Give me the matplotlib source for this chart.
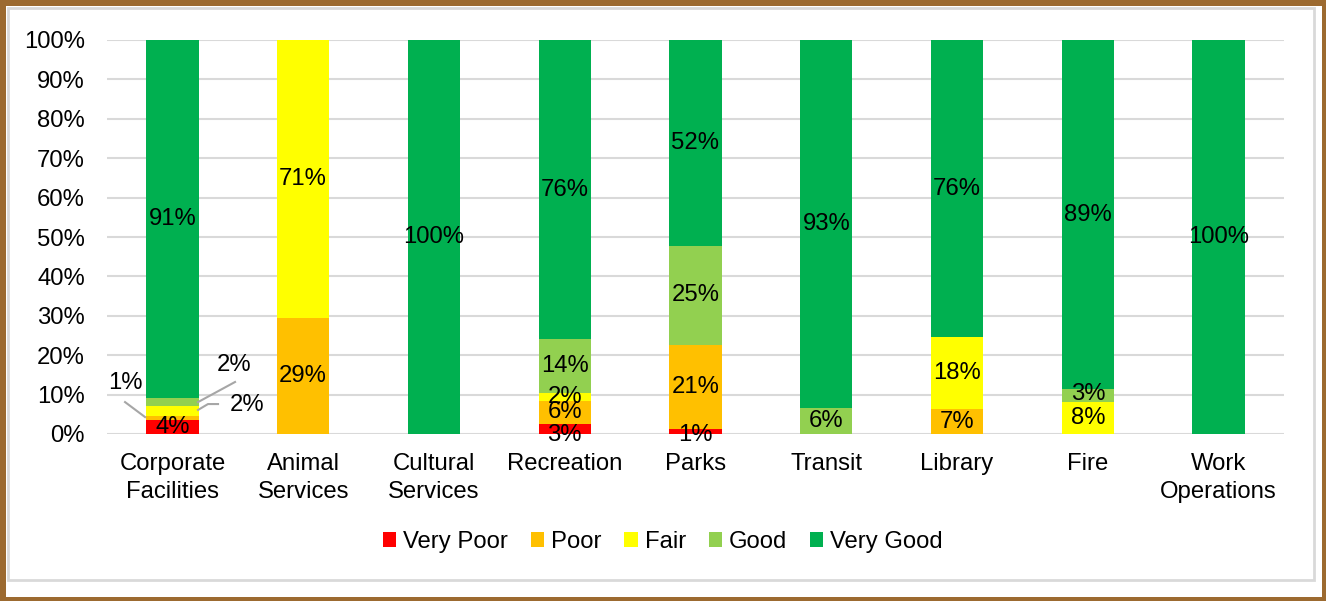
import matplotlib
matplotlib.use("Agg")
import matplotlib.pyplot as plt
from matplotlib.patches import Rectangle
import numpy as np

plt.rcParams['font.family'] = ['Liberation Sans', 'DejaVu Sans']

categories = ["Corporate\nFacilities", "Animal\nServices", "Cultural\nServices", "Recreation",
              "Parks", "Transit", "Library", "Fire", "Work\nOperations"]
series = ["Very Poor", "Poor", "Fair", "Good", "Very Good"]
colors = ["#FF0000", "#FFC000", "#FFFF00", "#92D050", "#00B050"]

# Estimated segment shares (%)
very_poor = [3.6, 0, 0, 2.6, 1.2, 0, 0, 0, 0]
poor      = [1.0, 29.4, 0, 5.8, 21.4, 0, 6.3, 0, 0]
fair      = [2.5, 70.6, 0, 2.0, 0, 0, 18.3, 8.1, 0]
good      = [2.0, 0, 0, 13.6, 25.2, 6.6, 0, 3.3, 0]
very_good = [90.9, 0, 100, 76.0, 52.2, 93.4, 75.4, 88.6, 100]

# Displayed data labels
lbl_very_poor = ["4%", "", "", "3%", "1%", "", "", "", ""]
lbl_poor      = ["1%", "29%", "", "6%", "21%", "", "7%", "", ""]
lbl_fair      = ["2%", "71%", "", "2%", "", "", "18%", "8%", ""]
lbl_good      = ["2%", "", "", "14%", "25%", "6%", "", "3%", ""]
lbl_very_good = ["91%", "", "100%", "76%", "52%", "93%", "76%", "89%", "100%"]

values = [very_poor, poor, fair, good, very_good]
labels = [lbl_very_poor, lbl_poor, lbl_fair, lbl_good, lbl_very_good]

W, H = 1326, 601
fig = plt.figure(figsize=(W / 100, H / 100), dpi=100)

# frame
fig.patches.append(Rectangle((0, 0), 1, 1, transform=fig.transFigure, facecolor="#9C6A30",
                             edgecolor="none", zorder=-10))
fig.patches.append(Rectangle((6 / W, 1 - 597 / H), (1322 - 6) / W, (597 - 6) / H,
                             transform=fig.transFigure, facecolor="white", edgecolor="none", zorder=-9))
fig.patches.append(Rectangle((7.5 / W, 1 - 580 / H), (1314 - 7.5) / W, (580 - 7.5) / H,
                             transform=fig.transFigure, facecolor="none", edgecolor="#D9D9D9",
                             linewidth=2, zorder=-8))

ax = fig.add_axes([107 / W, 1 - 434 / H, (1284 - 107) / W, (434 - 40) / H])
ax.set_facecolor("none")
x = np.arange(len(categories))
bottom = np.zeros(len(categories))
fs = 17.2
for s, vals, lbls, c in zip(series, values, labels, colors):
    v = np.array(vals, dtype=float) / 100
    ax.bar(x, v, 0.4, bottom=bottom, color=c, label=s, zorder=3)
    for i, (val, lb) in enumerate(zip(v, lbls)):
        if not lb:
            continue
        yc = bottom[i] + val / 2
        if i == 0 and s in ("Poor", "Fair", "Good"):
            continue
        if s == "Very Poor" and i in (3, 4):
            yc = -0.003
        if s == "Good" and i == 7:
            yc = bottom[i] + val / 2 + 0.003
        ax.text(i, yc, lb, ha="center", va="center", fontsize=fs, color="black", zorder=5)
    bottom += v

# Corporate Facilities callouts
lc = "#A6A6A6"
ax.plot([-0.362, -0.209], [0.081, 0.043], color=lc, lw=1.5, zorder=4, clip_on=False)
ax.text(-0.362, 0.129, "1%", ha="center", va="center", fontsize=fs)
ax.plot([0.196, 0.479], [0.081, 0.132], color=lc, lw=1.5, zorder=4, clip_on=False)
ax.text(0.471, 0.175, "2%", ha="center", va="center", fontsize=fs)
ax.plot([0.196, 0.272, 0.349], [0.061, 0.076, 0.076], color=lc, lw=1.5, zorder=4,
        clip_on=False)
ax.text(0.570, 0.074, "2%", ha="center", va="center", fontsize=fs)

ax.set_xlim(-0.5, len(categories) - 0.5)
ax.set_ylim(0, 1)
ax.set_yticks(np.linspace(0, 1, 11))
ax.set_yticklabels([f"{int(t)}%" for t in np.linspace(0, 100, 11)])
ax.set_xticks(x)
ax.set_xticklabels(categories, linespacing=1.3)
ax.tick_params(axis="both", length=0, labelsize=fs, colors="black")
ax.tick_params(axis="y", pad=16)
ax.tick_params(axis="x", pad=14)
for sp in ax.spines.values():
    sp.set_visible(False)
ax.yaxis.grid(True, color="#D9D9D9", linewidth=1.5, zorder=0)
ax.set_axisbelow(True)

leg = fig.legend(loc="center", bbox_to_anchor=(663 / W, 1 - 542 / H), ncol=5, frameon=False,
                 fontsize=fs, handlelength=0.55, handleheight=0.55, handletextpad=0.3,
                 columnspacing=0.95)

fig.savefig("out.png", dpi=100)
